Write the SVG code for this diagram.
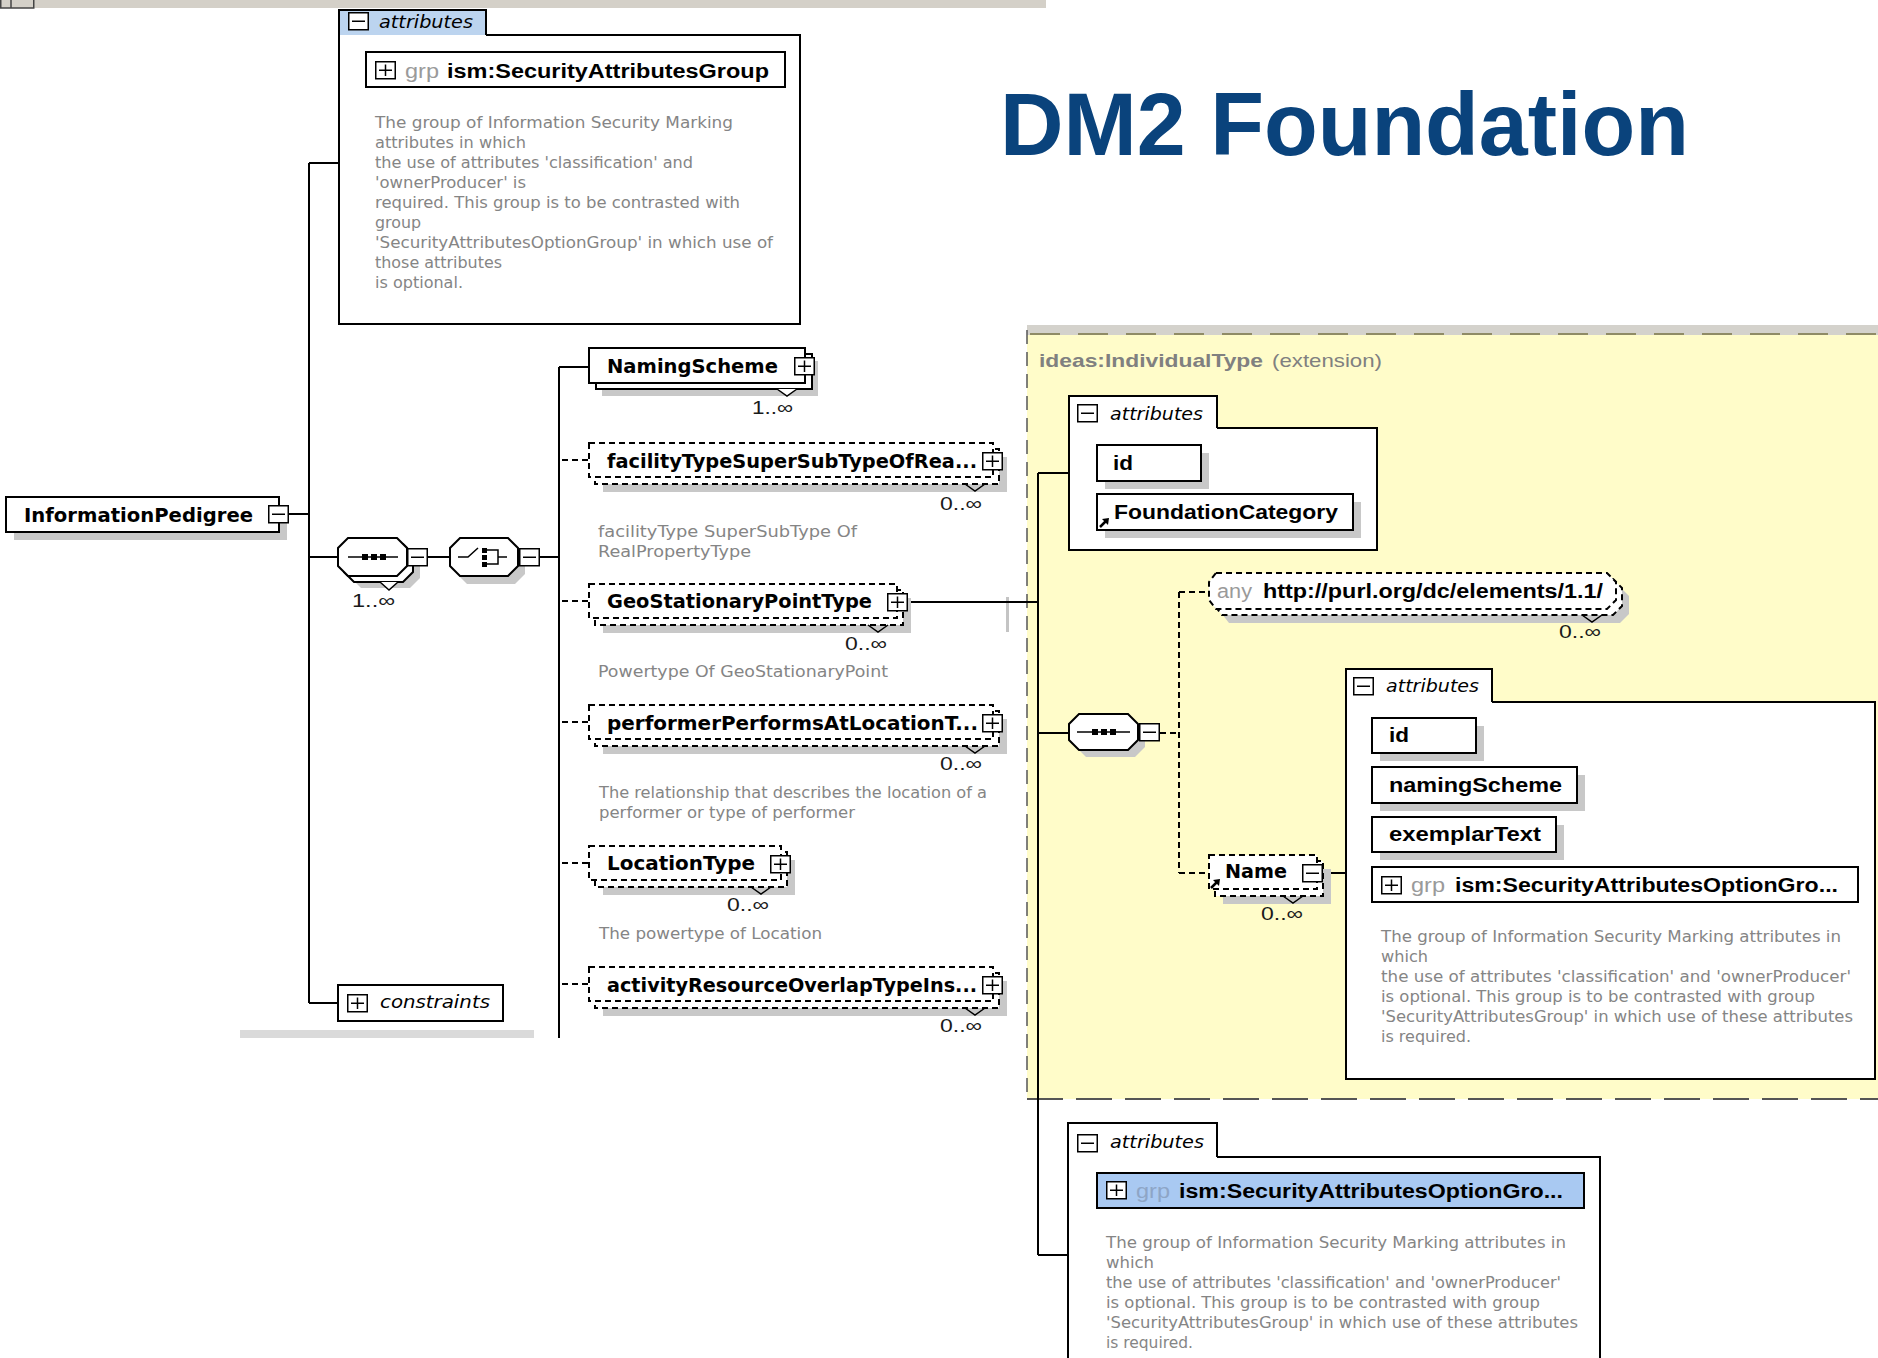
<svg xmlns="http://www.w3.org/2000/svg" width="1878" height="1358" viewBox="0 0 1878 1358">
<style>
  .bx{fill:#fff;stroke:#000;stroke-width:2}
  .db{fill:#fff;stroke:#000;stroke-width:2;stroke-dasharray:6 4}
  .sh{fill:#c8c8c8}
  .ln{fill:none;stroke:#000;stroke-width:2}
  .dl{fill:none;stroke:#000;stroke-width:2;stroke-dasharray:6 4}
  .tk{fill:none;stroke:#000;stroke-width:1.5}
  .nm{font-family:"DejaVu Sans",Verdana,sans-serif;font-weight:bold;font-size:19px;fill:#000}
  .at{font-family:"Liberation Sans",Arial,sans-serif;font-weight:bold;font-size:20px;fill:#000}
  .it{font-family:"DejaVu Sans",Verdana,sans-serif;font-style:italic;font-size:17px;fill:#000}
  .ds{font-family:"DejaVu Sans",Verdana,sans-serif;font-size:16px;fill:#858585}
  .oc{font-family:"Liberation Sans",Arial,sans-serif;font-size:19px;fill:#1a1a1a}
  .gp{font-family:"Liberation Sans",Arial,sans-serif;font-size:20px;fill:#9a9a9a}
  .ext{font-family:"Liberation Sans",Arial,sans-serif;font-size:19px;fill:#808080}
</style>
<defs>
  <g id="ico-minus">
    <rect x="0.75" y="0.75" width="19.5" height="17" fill="#fff" stroke="#000" stroke-width="1.5"/>
    <line x1="4" y1="9.25" x2="17" y2="9.25" stroke="#000" stroke-width="1.5"/>
  </g>
  <g id="ico-plus">
    <rect x="0.75" y="0.75" width="19.5" height="17" fill="#fff" stroke="#000" stroke-width="1.5"/>
    <line x1="4" y1="9.25" x2="17" y2="9.25" stroke="#000" stroke-width="1.5"/>
    <line x1="10.5" y1="3.5" x2="10.5" y2="15" stroke="#000" stroke-width="1.5"/>
  </g>
  <g id="ico-ref">
    <line x1="0" y1="9" x2="6" y2="3" stroke="#000" stroke-width="2.5"/>
    <polygon points="2,1 9,0 8,7" fill="#000"/>
  </g>
</defs>

<rect width="1878" height="1358" fill="#fff"/>

<!-- toolbar strip along the top -->
<rect x="0" y="0" width="1046" height="8" fill="#d4d0c8"/>
<rect x="0.75" y="-1" width="33" height="9" fill="#d4d0c8" stroke="#444" stroke-width="1.5"/>
<line x1="11" y1="0" x2="11" y2="8" stroke="#444" stroke-width="1.5"/>

<!-- title -->
<text x="1000" y="155" font-family="Liberation Sans, Arial, sans-serif" font-weight="bold" font-size="89" fill="#0a437c" textLength="689" lengthAdjust="spacingAndGlyphs">DM2 Foundation</text>

<!-- extension area of ideas:IndividualType -->
<g id="ext-area">
  <rect x="1027" y="333" width="851" height="766" fill="#fffcc9"/>
  <rect x="1027" y="325" width="851" height="10" fill="#d4d2cc"/>
  <line x1="1030" y1="334" x2="1878" y2="334" stroke="#8f8b66" stroke-width="2" stroke-dasharray="30 18"/>
  <line x1="1027" y1="330" x2="1027" y2="1099" stroke="#555" stroke-width="1.5" stroke-dasharray="14 8"/>
  <line x1="1027" y1="1099" x2="1878" y2="1099" stroke="#555" stroke-width="2" stroke-dasharray="36 13"/>
  <text class="ext" x="1039" y="367" font-weight="bold" textLength="224" lengthAdjust="spacingAndGlyphs">ideas:IndividualType</text>
  <text class="ext" x="1272" y="367" textLength="110" lengthAdjust="spacingAndGlyphs">(extension)</text>
</g>

<!-- stray scroll marker -->
<rect x="1006" y="597" width="3" height="35" fill="#c4c4c4"/>
<rect x="240" y="1030" width="294" height="8" fill="#dadada"/>

<!-- connectors -->
<g id="connectors">
  <path class="ln" d="M309,163 V1003"/>
  <path class="ln" d="M309,163 H339"/>
  <path class="ln" d="M289,514 H309"/>
  <path class="ln" d="M309,557 H338"/>
  <path class="ln" d="M309,1003 H338"/>
  <path class="ln" d="M428,557 H450"/>
  <path class="ln" d="M540,557 H559"/>
  <path class="ln" d="M559,367 V1038"/>
  <path class="ln" d="M559,367 H589"/>
  <path class="dl" d="M562,460 H589"/>
  <path class="dl" d="M562,601 H589"/>
  <path class="dl" d="M562,722 H589"/>
  <path class="dl" d="M562,863 H589"/>
  <path class="dl" d="M562,984 H589"/>
  <path class="ln" d="M908,602 H1038"/>
  <path class="ln" d="M1038,473 V1255"/>
  <path class="ln" d="M1038,473 H1069"/>
  <path class="ln" d="M1038,733 H1069"/>
  <path class="ln" d="M1038,1255 H1068"/>
  <path class="dl" d="M1160,733 H1179"/>
  <path class="dl" d="M1179,592 V873"/>
  <path class="dl" d="M1179,592 H1209"/>
  <path class="dl" d="M1179,873 H1209"/>
  <path class="ln" d="M1322,873 H1346"/>
</g>

<!-- root element -->
<g id="InformationPedigree">
  <rect class="sh" x="14" y="505" width="273" height="35"/>
  <rect class="bx" x="6" y="497" width="273" height="35"/>
  <text class="nm" x="24" y="522" textLength="229" lengthAdjust="spacingAndGlyphs">InformationPedigree</text>
  <use href="#ico-minus" x="268" y="505"/>
</g>

<!-- attribute group of the root -->
<g id="attributes-root">
  <rect x="339" y="35" width="461" height="289" fill="#fff"/>
  <rect x="339" y="10" width="147" height="25" fill="#bcd4ef"/>
  <path class="ln" d="M486,35 H800 V324 H339 V10 H486 V35"/>
  <use href="#ico-minus" x="348" y="12"/>
  <text class="it" x="379" y="28" textLength="94" lengthAdjust="spacingAndGlyphs">attributes</text>
  <rect class="bx" x="366" y="52" width="419" height="35"/>
  <use href="#ico-plus" x="375" y="61"/>
  <text class="gp" x="405" y="78" textLength="34" lengthAdjust="spacingAndGlyphs">grp</text>
  <text class="at" x="447" y="78" textLength="322" lengthAdjust="spacingAndGlyphs">ism:SecurityAttributesGroup</text>
  <text class="ds" x="375" y="128" textLength="358" lengthAdjust="spacingAndGlyphs">The group of Information Security Marking</text>
  <text class="ds" x="375" y="148" textLength="151" lengthAdjust="spacingAndGlyphs">attributes in which</text>
  <text class="ds" x="375" y="168" textLength="318" lengthAdjust="spacingAndGlyphs">the use of attributes 'classification' and</text>
  <text class="ds" x="375" y="188" textLength="151" lengthAdjust="spacingAndGlyphs">'ownerProducer' is</text>
  <text class="ds" x="375" y="208" textLength="365" lengthAdjust="spacingAndGlyphs">required. This group is to be contrasted with</text>
  <text class="ds" x="375" y="228" textLength="46" lengthAdjust="spacingAndGlyphs">group</text>
  <text class="ds" x="375" y="248" textLength="398" lengthAdjust="spacingAndGlyphs">'SecurityAttributesOptionGroup' in which use of</text>
  <text class="ds" x="375" y="268" textLength="127" lengthAdjust="spacingAndGlyphs">those attributes</text>
  <text class="ds" x="375" y="288" textLength="88" lengthAdjust="spacingAndGlyphs">is optional.</text>
</g>

<!-- sequence compositor, repeated 1..inf -->
<g id="sequence-root">
  <path class="sh" d="M361,550 H410 L420,560 V578 L410,588 H361 L351,578 V560 Z"/>
  <path class="bx" d="M354,544 H403 L413,554 V572 L403,582 H354 L344,572 V554 Z"/>
  <path class="bx" d="M348,538 H397 L407,548 V566 L397,576 H348 L338,566 V548 Z"/>
  <line class="tk" x1="348" y1="557" x2="398" y2="557"/>
  <rect x="362" y="554" width="6" height="6" fill="#000"/>
  <rect x="371" y="554" width="6" height="6" fill="#000"/>
  <rect x="380" y="554" width="6" height="6" fill="#000"/>
  <polyline points="380,582 389,590 398,582" fill="#fff" stroke="#000" stroke-width="1.5"/>
  <use href="#ico-minus" x="407" y="548"/>
  <text class="oc" x="352" y="607" textLength="43" lengthAdjust="spacingAndGlyphs">1..∞</text>
</g>

<!-- choice compositor -->
<g id="choice-root">
  <path class="sh" d="M467,546 H515 L525,556 V574 L515,584 H467 L457,574 V556 Z"/>
  <path class="bx" d="M460,538 H508 L518,548 V566 L508,576 H460 L450,566 V548 Z"/>
  <polyline class="tk" points="458,557 468,557 478,548"/>
  <rect x="482" y="548" width="5" height="5" fill="#000"/>
  <rect x="482" y="555" width="5" height="5" fill="#000"/>
  <rect x="482" y="562" width="5" height="5" fill="#000"/>
  <polyline class="tk" points="487,550 498,550 498,564 487,564"/>
  <line class="tk" x1="498" y1="557" x2="507" y2="557"/>
  <use href="#ico-minus" x="519" y="548"/>
</g>

<g id="constraints">
  <rect class="bx" x="338" y="985" width="165" height="36"/>
  <use href="#ico-plus" x="347" y="994"/>
  <text class="it" x="380" y="1008" textLength="110" lengthAdjust="spacingAndGlyphs">constraints</text>
</g>

<!-- child elements of the choice -->
<g id="NamingScheme">
  <rect class="sh" x="602" y="361" width="216" height="35"/>
  <rect class="bx" x="596" y="354" width="216" height="35"/>
  <rect class="bx" x="589" y="348" width="216" height="35"/>
  <polyline points="777,389 787,396 797,389" fill="#fff" stroke="#000" stroke-width="1.5"/>
  <text class="nm" x="607" y="373" textLength="171" lengthAdjust="spacingAndGlyphs">NamingScheme</text>
  <use href="#ico-plus" x="794" y="357"/>
  <text class="oc" x="752" y="414" textLength="41" lengthAdjust="spacingAndGlyphs">1..∞</text>
</g>

<g id="facilityTypeSuperSubTypeOfRealPropertyType">
  <rect class="sh" x="603" y="457" width="404" height="35"/>
  <rect class="db" x="595" y="449" width="404" height="35"/>
  <rect class="db" x="589" y="443" width="404" height="34"/>
  <polyline class="tk" points="965,484 975,491 985,484"/>
  <text class="nm" x="607" y="468" textLength="370" lengthAdjust="spacingAndGlyphs">facilityTypeSuperSubTypeOfRea...</text>
  <use href="#ico-plus" x="982" y="452"/>
  <text class="oc" x="940" y="510" textLength="42" lengthAdjust="spacingAndGlyphs">0..∞</text>
  <text class="ds" x="598" y="537" textLength="259" lengthAdjust="spacingAndGlyphs">facilityType SuperSubType Of</text>
  <text class="ds" x="598" y="557" textLength="153" lengthAdjust="spacingAndGlyphs">RealPropertyType</text>
</g>

<g id="GeoStationaryPointType">
  <rect class="sh" x="603" y="598" width="308" height="35"/>
  <rect class="db" x="595" y="590" width="308" height="35"/>
  <rect class="db" x="589" y="584" width="308" height="34"/>
  <polyline class="tk" points="868,625 878,632 888,625"/>
  <text class="nm" x="607" y="608" textLength="265" lengthAdjust="spacingAndGlyphs">GeoStationaryPointType</text>
  <use href="#ico-plus" x="887" y="593"/>
  <text class="oc" x="845" y="650" textLength="42" lengthAdjust="spacingAndGlyphs">0..∞</text>
  <text class="ds" x="598" y="677" textLength="290" lengthAdjust="spacingAndGlyphs">Powertype Of GeoStationaryPoint</text>
</g>

<g id="performerPerformsAtLocationType">
  <rect class="sh" x="603" y="719" width="404" height="35"/>
  <rect class="db" x="595" y="711" width="404" height="35"/>
  <rect class="db" x="589" y="705" width="404" height="34"/>
  <polyline class="tk" points="965,746 975,753 985,746"/>
  <text class="nm" x="607" y="730" textLength="371" lengthAdjust="spacingAndGlyphs">performerPerformsAtLocationT...</text>
  <use href="#ico-plus" x="982" y="714"/>
  <text class="oc" x="940" y="770" textLength="42" lengthAdjust="spacingAndGlyphs">0..∞</text>
  <text class="ds" x="599" y="798" textLength="388" lengthAdjust="spacingAndGlyphs">The relationship that describes the location of a</text>
  <text class="ds" x="599" y="818" textLength="256" lengthAdjust="spacingAndGlyphs">performer or type of performer</text>
</g>

<g id="LocationType">
  <rect class="sh" x="603" y="860" width="192" height="35"/>
  <rect class="db" x="595" y="852" width="192" height="35"/>
  <rect class="db" x="589" y="846" width="192" height="34"/>
  <polyline class="tk" points="751,887 761,894 771,887"/>
  <text class="nm" x="607" y="870" textLength="148" lengthAdjust="spacingAndGlyphs">LocationType</text>
  <use href="#ico-plus" x="770" y="855"/>
  <text class="oc" x="727" y="911" textLength="42" lengthAdjust="spacingAndGlyphs">0..∞</text>
  <text class="ds" x="599" y="939" textLength="223" lengthAdjust="spacingAndGlyphs">The powertype of Location</text>
</g>

<g id="activityResourceOverlapTypeInstance">
  <rect class="sh" x="603" y="981" width="404" height="35"/>
  <rect class="db" x="595" y="973" width="404" height="35"/>
  <rect class="db" x="589" y="967" width="404" height="34"/>
  <polyline class="tk" points="965,1008 975,1015 985,1008"/>
  <text class="nm" x="607" y="992" textLength="370" lengthAdjust="spacingAndGlyphs">activityResourceOverlapTypeIns...</text>
  <use href="#ico-plus" x="982" y="976"/>
  <text class="oc" x="940" y="1032" textLength="42" lengthAdjust="spacingAndGlyphs">0..∞</text>
</g>

<!-- attributes inherited from ideas:IndividualType -->
<g id="attributes-individual">
  <rect x="1069" y="396" width="148" height="32" fill="#fff"/>
  <rect x="1069" y="428" width="308" height="122" fill="#fff"/>
  <path class="ln" d="M1217,428 H1377 V550 H1069 V396 H1217 V428"/>
  <use href="#ico-minus" x="1077" y="404"/>
  <text class="it" x="1110" y="420" textLength="93" lengthAdjust="spacingAndGlyphs">attributes</text>
  <rect class="sh" x="1105" y="453" width="104" height="36"/>
  <rect class="bx" x="1097" y="445" width="104" height="36"/>
  <text class="at" x="1113" y="470" textLength="20" lengthAdjust="spacingAndGlyphs">id</text>
  <rect class="sh" x="1105" y="502" width="256" height="36"/>
  <rect class="bx" x="1097" y="494" width="256" height="36"/>
  <use href="#ico-ref" x="1100" y="518"/>
  <text class="at" x="1114" y="519" textLength="224" lengthAdjust="spacingAndGlyphs">FoundationCategory</text>
</g>

<!-- sequence inside the extension -->
<g id="sequence-individual">
  <path class="sh" d="M1086,721 H1135 L1145,731 V747 L1135,757 H1086 L1076,747 V731 Z"/>
  <path class="bx" d="M1079,714 H1128 L1138,724 V740 L1128,750 H1079 L1069,740 V724 Z"/>
  <line class="tk" x1="1077" y1="732" x2="1130" y2="732"/>
  <rect x="1092" y="729" width="6" height="6" fill="#000"/>
  <rect x="1101" y="729" width="6" height="6" fill="#000"/>
  <rect x="1110" y="729" width="6" height="6" fill="#000"/>
  <use href="#ico-minus" x="1139" y="723"/>
</g>

<g id="any-dc-elements">
  <path class="sh" d="M1229,587 H1620 L1629,596 V614 L1620,623 H1229 L1222,614 V596 Z"/>
  <path class="db" d="M1222,579 H1613 L1622,588 V606 L1613,615 H1222 L1215,606 V588 Z"/>
  <path class="db" d="M1216,573 H1607 L1616,582 V600 L1607,609 H1216 L1209,600 V582 Z"/>
  <polyline class="tk" points="1582,615 1592,622 1602,615"/>
  <text class="gp" x="1217" y="598" textLength="35" lengthAdjust="spacingAndGlyphs">any</text>
  <text class="at" x="1263" y="598" textLength="340" lengthAdjust="spacingAndGlyphs">http://purl.org/dc/elements/1.1/</text>
  <text class="oc" x="1559" y="638" textLength="42" lengthAdjust="spacingAndGlyphs">0..∞</text>
</g>

<g id="Name">
  <rect class="sh" x="1223" y="869" width="108" height="35"/>
  <rect class="db" x="1215" y="861" width="108" height="35"/>
  <rect class="db" x="1209" y="855" width="108" height="34"/>
  <polyline class="tk" points="1283,896 1293,903 1303,896"/>
  <use href="#ico-ref" x="1211" y="879"/>
  <text class="nm" x="1225" y="878" textLength="62" lengthAdjust="spacingAndGlyphs">Name</text>
  <use href="#ico-minus" x="1302" y="864"/>
  <text class="oc" x="1261" y="920" textLength="42" lengthAdjust="spacingAndGlyphs">0..∞</text>
</g>

<g id="attributes-name">
  <rect x="1346" y="669" width="146" height="33" fill="#fff"/>
  <rect x="1346" y="702" width="529" height="377" fill="#fff"/>
  <path class="ln" d="M1492,702 H1875 V1079 H1346 V669 H1492 V702"/>
  <use href="#ico-minus" x="1353" y="677"/>
  <text class="it" x="1386" y="692" textLength="93" lengthAdjust="spacingAndGlyphs">attributes</text>
  <rect class="sh" x="1380" y="726" width="104" height="35"/>
  <rect class="bx" x="1372" y="718" width="104" height="35"/>
  <text class="at" x="1389" y="742" textLength="20" lengthAdjust="spacingAndGlyphs">id</text>
  <rect class="sh" x="1380" y="775" width="205" height="36"/>
  <rect class="bx" x="1372" y="767" width="205" height="36"/>
  <text class="at" x="1389" y="792" textLength="173" lengthAdjust="spacingAndGlyphs">namingScheme</text>
  <rect class="sh" x="1380" y="825" width="184" height="35"/>
  <rect class="bx" x="1372" y="817" width="184" height="35"/>
  <text class="at" x="1389" y="841" textLength="152" lengthAdjust="spacingAndGlyphs">exemplarText</text>
  <rect class="bx" x="1372" y="867" width="486" height="35"/>
  <use href="#ico-plus" x="1381" y="876"/>
  <text class="gp" x="1411" y="892" textLength="34" lengthAdjust="spacingAndGlyphs">grp</text>
  <text class="at" x="1455" y="892" textLength="383" lengthAdjust="spacingAndGlyphs">ism:SecurityAttributesOptionGro...</text>
  <text class="ds" x="1381" y="942" textLength="460" lengthAdjust="spacingAndGlyphs">The group of Information Security Marking attributes in</text>
  <text class="ds" x="1381" y="962" textLength="47" lengthAdjust="spacingAndGlyphs">which</text>
  <text class="ds" x="1381" y="982" textLength="470" lengthAdjust="spacingAndGlyphs">the use of attributes 'classification' and 'ownerProducer'</text>
  <text class="ds" x="1381" y="1002" textLength="434" lengthAdjust="spacingAndGlyphs">is optional. This group is to be contrasted with group</text>
  <text class="ds" x="1381" y="1022" textLength="472" lengthAdjust="spacingAndGlyphs">'SecurityAttributesGroup' in which use of these attributes</text>
  <text class="ds" x="1381" y="1042" textLength="90" lengthAdjust="spacingAndGlyphs">is required.</text>
</g>

<!-- attributes of the derived type -->
<g id="attributes-derived">
  <rect x="1068" y="1123" width="149" height="34" fill="#fff"/>
  <rect x="1068" y="1157" width="532" height="213" fill="#fff"/>
  <path class="ln" d="M1217,1157 H1600 V1370 H1068 V1123 H1217 V1157"/>
  <use href="#ico-minus" x="1077" y="1134"/>
  <text class="it" x="1110" y="1148" textLength="94" lengthAdjust="spacingAndGlyphs">attributes</text>
  <rect x="1097" y="1173" width="487" height="35" fill="#a9c9f2" stroke="#000" stroke-width="2"/>
  <use href="#ico-plus" x="1106" y="1181"/>
  <text class="gp" x="1136" y="1198" fill="#8fa6c4" style="fill:#8ea5c6" textLength="34" lengthAdjust="spacingAndGlyphs">grp</text>
  <text class="at" x="1179" y="1198" textLength="384" lengthAdjust="spacingAndGlyphs">ism:SecurityAttributesOptionGro...</text>
  <text class="ds" x="1106" y="1248" textLength="460" lengthAdjust="spacingAndGlyphs">The group of Information Security Marking attributes in</text>
  <text class="ds" x="1106" y="1268" textLength="48" lengthAdjust="spacingAndGlyphs">which</text>
  <text class="ds" x="1106" y="1288" textLength="455" lengthAdjust="spacingAndGlyphs">the use of attributes 'classification' and 'ownerProducer'</text>
  <text class="ds" x="1106" y="1308" textLength="434" lengthAdjust="spacingAndGlyphs">is optional. This group is to be contrasted with group</text>
  <text class="ds" x="1106" y="1328" textLength="472" lengthAdjust="spacingAndGlyphs">'SecurityAttributesGroup' in which use of these attributes</text>
  <text class="ds" x="1106" y="1348" textLength="87" lengthAdjust="spacingAndGlyphs">is required.</text>
</g>
</svg>
